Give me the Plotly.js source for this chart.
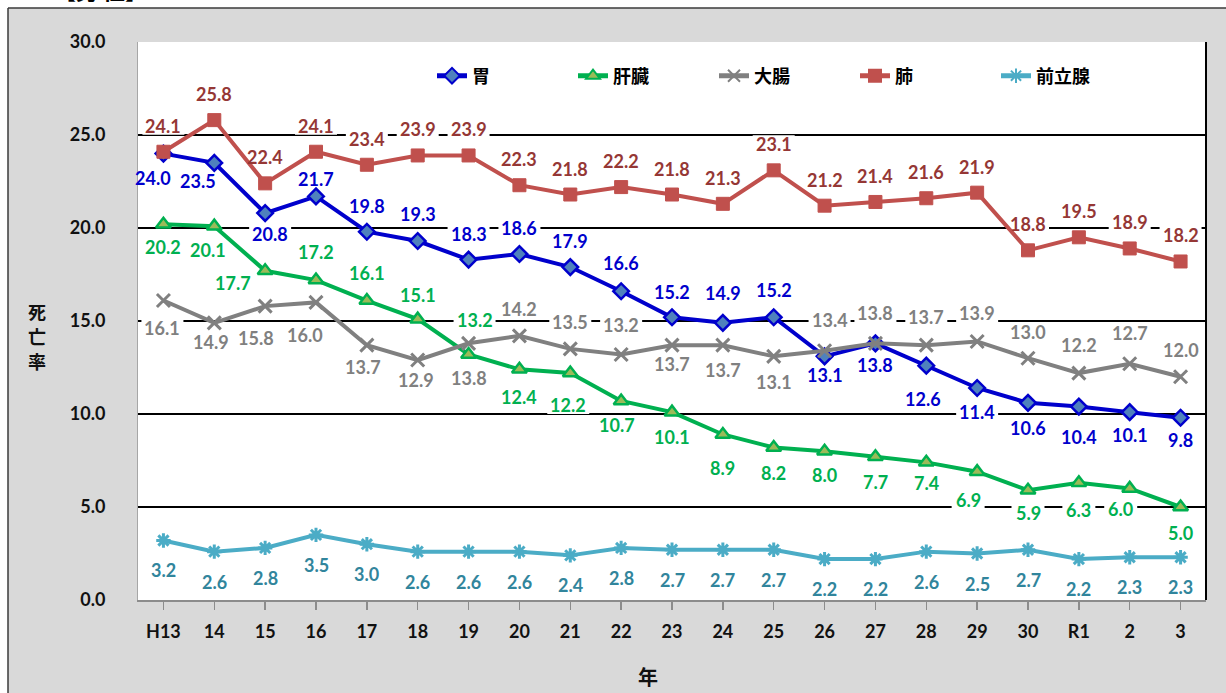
<!DOCTYPE html>
<html>
<head>
<meta charset="utf-8">
<script src="https://cdn.plot.ly/plotly-3.0.1.min.js"></script>
<style>html,body{margin:0;padding:0;background:#fff;}#chart{width:1226px;height:693px;}</style>
</head>
<body>
<div id="chart"></div>
<script>
// ---- data ----
const categories = ["H13","14","15","16","17","18","19","20","21","22","23","24","25","26","27","28","29","30","R1","2","3"];
const seriesNames = ["胃","肝臓","大腸","肺","前立腺"];
const stomach  = [24.0,23.5,20.8,21.7,19.8,19.3,18.3,18.6,17.9,16.6,15.2,14.9,15.2,13.1,13.8,12.6,11.4,10.6,10.4,10.1,9.8];
const liver    = [20.2,20.1,17.7,17.2,16.1,15.1,13.2,12.4,12.2,10.7,10.1,8.9,8.2,8.0,7.7,7.4,6.9,5.9,6.3,6.0,5.0];
const colon    = [16.1,14.9,15.8,16.0,13.7,12.9,13.8,14.2,13.5,13.2,13.7,13.7,13.1,13.4,13.8,13.7,13.9,13.0,12.2,12.7,12.0];
const lung     = [24.1,25.8,22.4,24.1,23.4,23.9,23.9,22.3,21.8,22.2,21.8,21.3,23.1,21.2,21.4,21.6,21.9,18.8,19.5,18.9,18.2];
const prostate = [3.2,2.6,2.8,3.5,3.0,2.6,2.6,2.6,2.4,2.8,2.7,2.7,2.7,2.2,2.2,2.6,2.5,2.7,2.2,2.3,2.3];
const yTicks = [0,5,10,15,20,25,30];
const yTitleChars = ["死","亡","率"];

// ---- label placement (pixel offsets, dy positive = below point) ----
const offStomach = [[-10,24],[-16,18],[5,21],[0,-17],[0,-26],[0,-27],[0,-26],[0,-26],[0,-26],[0,-28],[0,-25],[0,-30],[0,-27],[0,19],[0,22],[-3,33],[0,24],[0,25],[0,30],[0,23],[0,22]];
const offLiver = [[0,23],[-6,24],[-32,12],[0,-28],[0,-28],[0,-24],[6,-34],[0,28],[-2,32],[-4,24],[0,25],[0,34],[0,26],[0,24],[0,25],[0,21],[-9,28],[0,23],[0,27],[-9,21],[0,26]];
const offColon = [[-1,27],[-3,19],[-9,32],[-11,33],[-4,22],[-2,20],[0,35],[0,-27],[0,-27],[0,-29],[0,19],[0,25],[0,26],[5,-31],[0,-30],[0,-28],[0,-28],[0,-26],[0,-28],[0,-31],[0,-27]];
const offLung = lung.map(() => [0,-26]);
const offProstate = prostate.map(() => [0,30]);

const xIdx = categories.map((_, i) => i);
const FONT = "Lato, 'Noto Sans CJK JP', sans-serif";
const CJK = "'Noto Sans CJK JP', sans-serif";

const seriesDefs = [
  {name: seriesNames[0], y: stomach, off: offStomach, line: '#0000CC', label: '#0000CC',
   marker: {symbol: 'diamond', size: 12, color: '#4F81BD', line: {color: '#0000CC', width: 2.5}}},
  {name: seriesNames[1], y: liver, off: offLiver, line: '#00B050', label: '#00B050',
   marker: {symbol: 'triangle-up', size: 13, color: '#9BBB59', line: {color: '#00B050', width: 2.5}}},
  {name: seriesNames[2], y: colon, off: offColon, line: '#808080', label: '#808080',
   marker: {symbol: 'x-thin-open', size: 13, color: '#808080', line: {color: '#808080', width: 3}}},
  {name: seriesNames[3], y: lung, off: offLung, line: '#C0504D', label: '#953735',
   marker: {symbol: 'square', size: 13, color: '#C0504D', line: {color: '#C0504D', width: 1}}},
  {name: seriesNames[4], y: prostate, off: offProstate, line: '#4BACC6', label: '#31859C',
   marker: {symbol: 'asterisk-open', size: 12, color: '#4BACC6', line: {color: '#4BACC6', width: 3}}}
];

const traces = seriesDefs.map(s => ({
  type: 'scatter', mode: 'lines+markers', name: s.name,
  x: xIdx, y: s.y,
  line: {color: s.line, width: 4},
  marker: s.marker,
  hoverinfo: 'skip'
}));

const annotations = [];
const shapes = [];
seriesDefs.forEach(s => {
  s.y.forEach((v, i) => {
    const txt = v.toFixed(1);
    const dx = s.off[i][0], dy = s.off[i][1];
    annotations.push({
      x: i, y: v, xref: 'x', yref: 'y', text: txt, showarrow: false,
      xshift: dx, yshift: -dy,
      font: {family: FONT, size: 18, color: s.label, weight: 'bold'}
    });
    const w = txt.length * 9 + 6;
    shapes.push({
      type: 'rect', layer: 'between', xref: 'x', yref: 'y',
      xsizemode: 'pixel', ysizemode: 'pixel', xanchor: i, yanchor: v,
      x0: dx - w / 2, x1: dx + w / 2, y0: -dy - 9, y1: -dy + 9,
      fillcolor: '#ffffff', line: {width: 0}
    });
  });
});

// frame decorations (pixel -> paper)
const L = 138, R = 20, T = 42, B = 93, W = 1226, H = 693;
const pw = W - L - R, ph = H - T - B;
const px = v => (v - L) / pw;
const py = v => (H - B - v) / ph;
shapes.push(
  {type: 'rect', layer: 'below', xref: 'paper', yref: 'paper', x0: px(-5), x1: px(W + 5), y0: py(8), y1: py(-5), fillcolor: '#ffffff', line: {width: 0}},
  {type: 'rect', layer: 'below', xref: 'paper', yref: 'paper', x0: px(-5), x1: px(8), y0: py(H + 5), y1: py(-5), fillcolor: '#ffffff', line: {width: 0}},
  {type: 'line', layer: 'below', xref: 'paper', yref: 'paper', x0: px(8), x1: px(W + 5), y0: py(8), y1: py(8), line: {color: '#3a3a3a', width: 1.5}},
  {type: 'line', layer: 'below', xref: 'paper', yref: 'paper', x0: px(8), x1: px(8), y0: py(8), y1: py(H + 5), line: {color: '#3a3a3a', width: 1.5}},
  {type: 'line', layer: 'above', xref: 'paper', yref: 'paper', x0: 1, x1: 1, y0: 0, y1: 1, line: {color: '#000000', width: 2}}
);

yTitleChars.forEach((ch, k) => {
  annotations.push({xref: 'paper', yref: 'paper', x: px(37), y: py(311 + k * 25), text: ch, showarrow: false,
    font: {family: CJK, size: 18, color: '#111', weight: 'bold'}, xanchor: 'center', yanchor: 'middle', height: 20, borderpad: 0});
});
annotations.push(
  {xref: 'paper', yref: 'paper', x: px(648), y: py(676), text: '年', showarrow: false,
   font: {family: CJK, size: 20, color: '#111', weight: 'bold'}, xanchor: 'center', yanchor: 'middle'},
  {xref: 'paper', yref: 'paper', x: px(100), y: py(7), text: '【男 性】', showarrow: false,
   font: {family: CJK, size: 22, color: '#000', weight: 'bold'}, xanchor: 'center', yanchor: 'bottom'}
);

const layout = {
  width: W, height: H,
  margin: {l: L, r: R, t: T, b: B, pad: 0},
  paper_bgcolor: '#d9d9d9', plot_bgcolor: '#ffffff',
  showlegend: true,
  legend: {orientation: 'h', x: px(432), y: py(76), xanchor: 'left', yanchor: 'middle',
    bgcolor: 'rgba(0,0,0,0)', entrywidth: 96, entrywidthmode: 'pixels', tracegroupgap: 0,
    font: {family: FONT, size: 18, color: '#000', weight: 'bold'}, itemsizing: 'constant'},
  xaxis: {
    range: [-0.5, categories.length - 0.5], tickmode: 'array', tickvals: xIdx, ticktext: categories,
    showgrid: false, zeroline: false, showline: true, linecolor: '#8c8c8c', linewidth: 2,
    ticks: 'outside', ticklen: 8, tickcolor: '#8c8c8c', tickwidth: 1.5, ticklabelstandoff: 6,
    tickfont: {family: FONT, size: 18, color: '#111', weight: 'bold'}, fixedrange: true
  },
  yaxis: {
    range: [0, 30], tickmode: 'array', tickvals: yTicks, ticktext: yTicks.map(v => v.toFixed(1)),
    showgrid: true, gridcolor: '#000000', gridwidth: 1.3, zeroline: false,
    showline: true, linecolor: '#a6a6a6', linewidth: 1, ticks: '', ticklabelstandoff: 28,
    tickfont: {family: FONT, size: 18, color: '#111', weight: 'bold'}, fixedrange: true
  },
  shapes: shapes,
  annotations: annotations
};

Plotly.newPlot('chart', traces, layout, {displayModeBar: false, staticPlot: true});
</script>
</body>
</html>
